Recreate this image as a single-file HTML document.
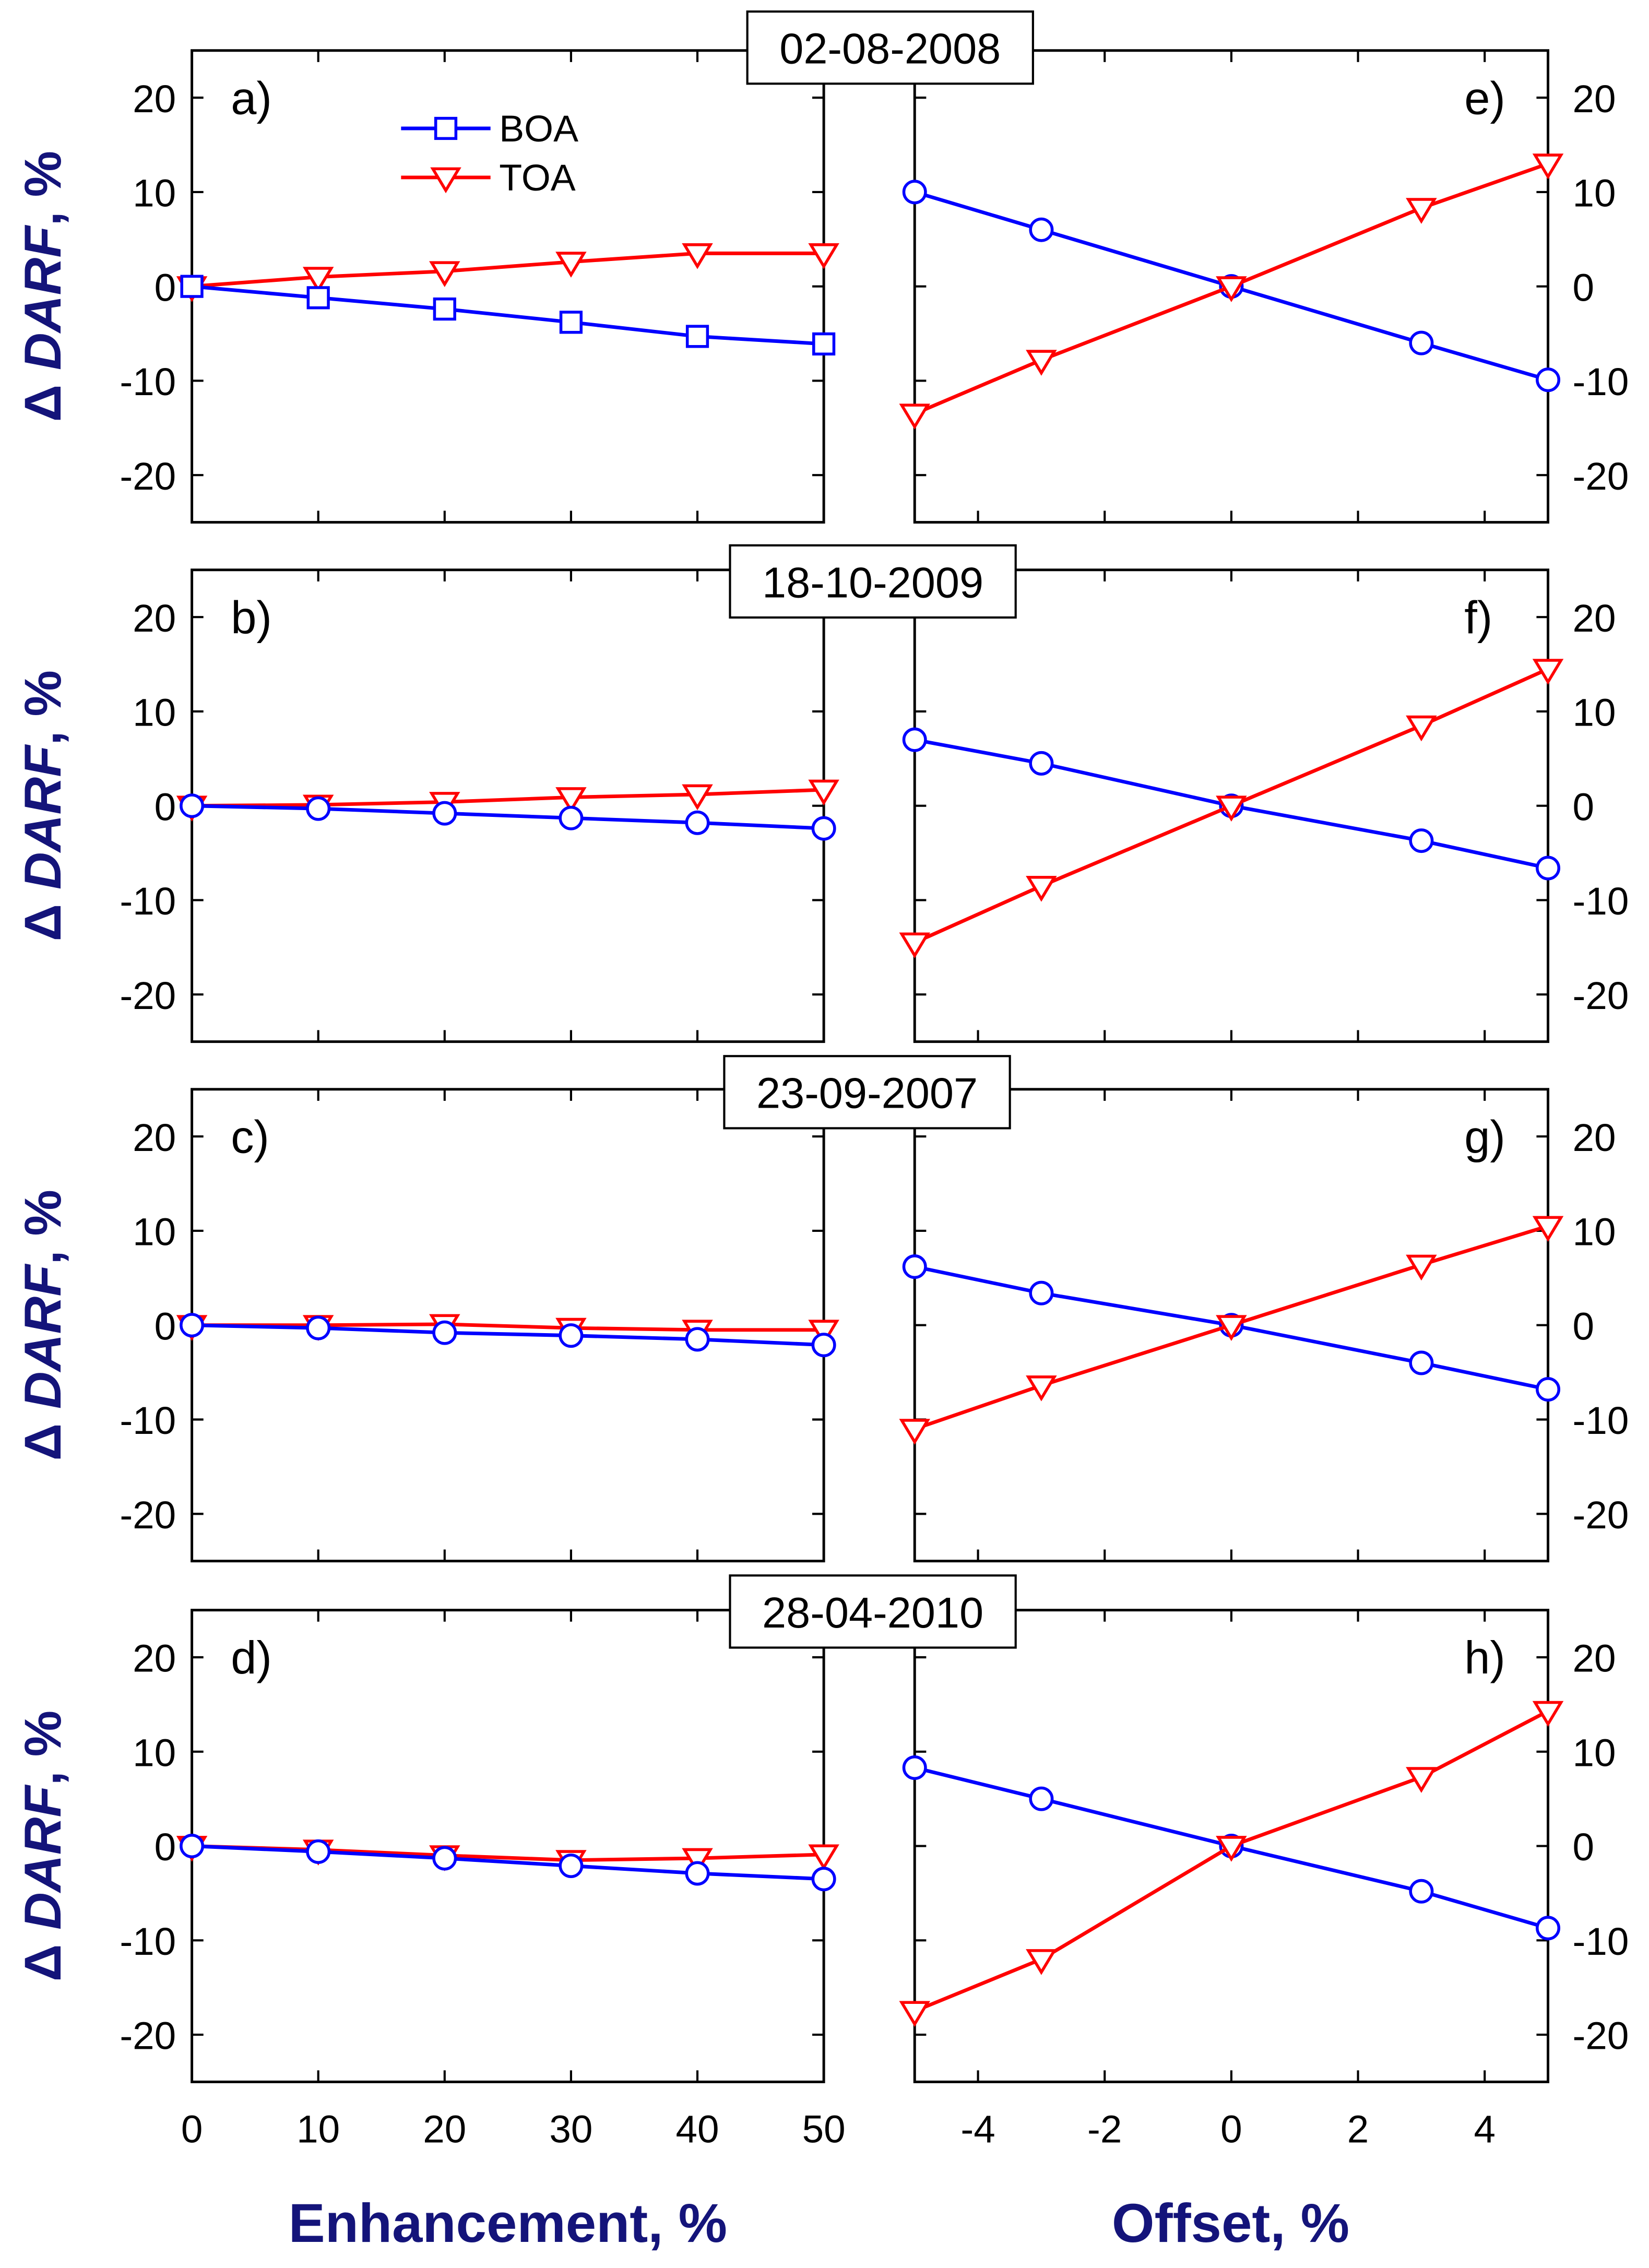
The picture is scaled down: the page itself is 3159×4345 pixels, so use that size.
<!DOCTYPE html>
<html><head><meta charset="utf-8"><style>html,body{margin:0;padding:0;background:#fff}svg{display:block}</style></head>
<body>
<svg id="chart" xmlns="http://www.w3.org/2000/svg" width="3159" height="4345" viewBox="0 0 1143 1572" preserveAspectRatio="none" font-family="Liberation Sans, sans-serif">
<rect width="1143" height="1572" fill="#fff"/>
</svg>
<script>
const enhX = [0, 10, 20, 30, 40, 50];
const offX = [-5, -3, 0, 3, 5];
const enhTicks = [0, 10, 20, 30, 40, 50];
const offTicks = [-4, -2, 0, 2, 4];
const yTicks = [-20, -10, 0, 10, 20];
const dates = ["02-08-2008", "18-10-2009", "23-09-2007", "28-04-2010"];
const leftLabels = ["a)", "b)", "c)", "d)"];
const rightLabels = ["e)", "f)", "g)", "h)"];
const boaEnh = [[0,-1.2,-2.4,-3.8,-5.3,-6.1],[0,-0.3,-0.8,-1.3,-1.8,-2.4],[0,-0.3,-0.8,-1.1,-1.5,-2.1],[0,-0.6,-1.3,-2.1,-2.9,-3.5]];
const toaEnh = [[0,1,1.6,2.6,3.5,3.5],[0,0.1,0.4,0.9,1.2,1.7],[0,0,0.1,-0.3,-0.5,-0.5],[0,-0.4,-1,-1.5,-1.3,-0.9]];
const boaOff = [[10,6,0,-6,-9.9],[7,4.5,0,-3.7,-6.6],[6.2,3.4,0,-4,-6.8],[8.3,5,0,-4.8,-8.7]];
const toaOff = [[-13.5,-7.8,0,8.3,13],[-14.5,-8.5,0,8.5,14.5],[-11,-6.4,0,6.4,10.5],[-17.5,-12,0,7.3,14.3]];

const NS="http://www.w3.org/2000/svg";
const svg=document.getElementById('chart');
function mk(tag,attrs,parent){const e=document.createElementNS(NS,tag);for(const k in attrs)e.setAttribute(k,attrs[k]);(parent||svg).appendChild(e);return e;}
const panelTops=[35,395,755,1116], PH=327;
const L={x0:133,x1:571}, R={x0:634,x1:1073};
const NAVY="#14147a";
function sx(p,xmin,xmax,v){return p.x0+(v-xmin)/(xmax-xmin)*(p.x1-p.x0);}
function sy(top,v){return top+PH/2-v/50*PH;}

function marker(g,type,x,y,color){
  let m;
  if(type==='sq') m=mk('rect',{x:x-7,y:y-7,width:14,height:14,fill:'#fff',stroke:color,'stroke-width':2},g);
  else if(type==='ci') m=mk('circle',{cx:x,cy:y,r:7.5,fill:'#fff',stroke:color,'stroke-width':2},g);
  else m=mk('polygon',{points:`${x-9},${y-6} ${x+9},${y-6} ${x},${y+9}`,fill:'#fff',stroke:color,'stroke-width':2},g);
  
  
}
function series(g,p,xmin,xmax,xs,ys,top,color,type,name){
  const pts=xs.map((v,i)=>sx(p,xmin,xmax,v)+','+sy(top,ys[i])).join(' ');
  const pl=mk('polyline',{points:pts,fill:'none',stroke:color,'stroke-width':2.5},g);
  
  
  xs.forEach((v,i)=>marker(g,type,sx(p,xmin,xmax,v),sy(top,ys[i]),color));
}

for(let k=0;k<4;k++){
  const top=panelTops[k];
  [[L,0,50,enhTicks,true],[R,-5,5,offTicks,false]].forEach(([p,xmin,xmax,ticks,isLeft])=>{
    const g=mk('g',{});
    
    
    ticks.forEach(t=>{const x=sx(p,xmin,xmax,t);
      mk('line',{x1:x,x2:x,y1:top,y2:top+8,stroke:'#000','stroke-width':1.5},g);
      mk('line',{x1:x,x2:x,y1:top+PH,y2:top+PH-8,stroke:'#000','stroke-width':1.5},g);
      if(k===3){const tl=mk('text',{x:x,y:top+PH+42,'font-size':27,'text-anchor':'middle'},g);tl.textContent=t;
        }
    });
    yTicks.forEach(t=>{const y=sy(top,t);
      mk('line',{x1:p.x0,x2:p.x0+8,y1:y,y2:y,stroke:'#000','stroke-width':1.5},g);
      mk('line',{x1:p.x1,x2:p.x1-8,y1:y,y2:y,stroke:'#000','stroke-width':1.5},g);
      const tl=mk('text',{x:isLeft?122:1090,y:y+10,'font-size':27,'text-anchor':isLeft?'end':'start'},g);tl.textContent=t;
      
    });
    const bx=mk('rect',{x:p.x0,y:top,width:p.x1-p.x0,height:PH,fill:'none',stroke:'#000','stroke-width':1.8},g);
    
    if(isLeft){
      series(g,p,xmin,xmax,enhX,toaEnh[k],top,'#ff0000','tr','toa-line');
      series(g,p,xmin,xmax,enhX,boaEnh[k],top,'#0000ff',k===0?'sq':'ci','boa-line');
    } else {
      series(g,p,xmin,xmax,offX,boaOff[k],top,'#0000ff','ci','boa-line');
      series(g,p,xmin,xmax,offX,toaOff[k],top,'#ff0000','tr','toa-line');
    }
    const pl=mk('text',{x:isLeft?160:1015,y:top+44,'font-size':32},g);pl.textContent=isLeft?leftLabels[k]:rightLabels[k];
    
  });
  const yl=mk('text',{transform:`translate(42,${top+PH/2}) rotate(-90)`,'font-size':36,'font-weight':'bold','text-anchor':'middle',fill:NAVY});
  yl.innerHTML='Δ <tspan font-style="italic">DARF</tspan>, %';
  
}
const boxes=[[518,8],[506,378],[502,732],[506,1092]];
boxes.forEach((b,k)=>{
  const r=mk('rect',{x:b[0],y:b[1],width:198,height:50,fill:'#fff',stroke:'#000','stroke-width':1.5});
  
  const t=mk('text',{x:b[0]+99,y:b[1]+36,'font-size':30,'text-anchor':'middle'});t.textContent=dates[k];
  
});
// legend
const lg=mk('g',{});

mk('line',{x1:278,x2:340,y1:89,y2:89,stroke:'#0000ff','stroke-width':2.5},lg);
marker(lg,'sq',309,89,'#0000ff');
let lt=mk('text',{x:346,y:98,'font-size':26},lg);lt.textContent='BOA';
mk('line',{x1:278,x2:340,y1:123,y2:123,stroke:'#ff0000','stroke-width':2.5},lg);
marker(lg,'tr',309,123,'#ff0000');
lt=mk('text',{x:346,y:132,'font-size':26},lg);lt.textContent='TOA';
const xt1=mk('text',{x:352,y:1554,'font-size':38,'font-weight':'bold','text-anchor':'middle',fill:NAVY});xt1.textContent='Enhancement, %';

const xt2=mk('text',{x:853,y:1554,'font-size':38,'font-weight':'bold','text-anchor':'middle',fill:NAVY});xt2.textContent='Offset, %';

</script>
</body></html>
